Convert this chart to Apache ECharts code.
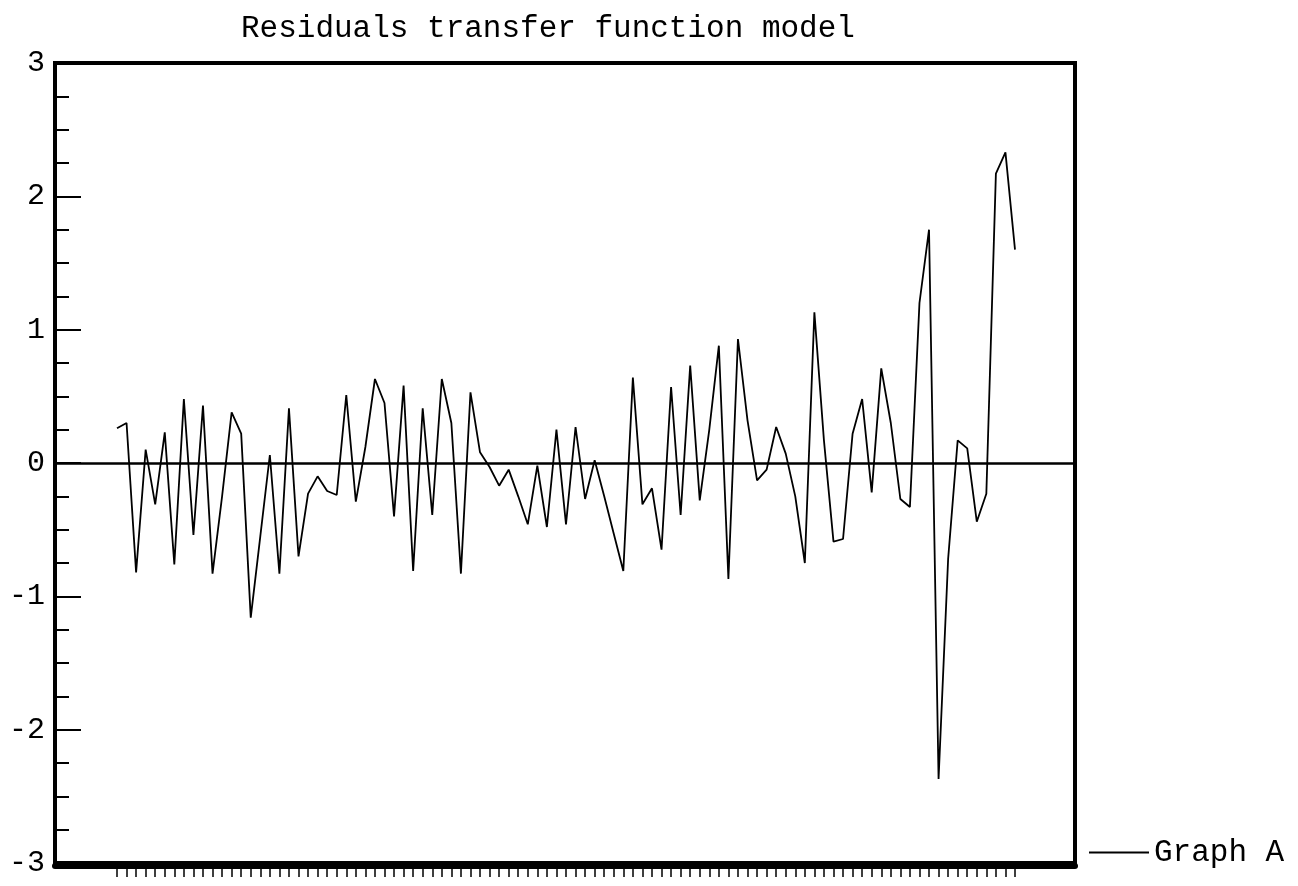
<!DOCTYPE html>
<html>
<head>
<meta charset="utf-8">
<script src="https://cdn.jsdelivr.net/npm/echarts@6/dist/echarts.min.js"></script>
<style>
html,body{margin:0;padding:0;background:#fff;}
#chart{width:1298px;height:886px;}
</style>
</head>
<body>
<div id="chart"></div>
<script>
var titleText = 'Residuals transfer function model';
var seriesName = 'Graph A';
var yMin = -3, yMax = 3, yStep = 1;
var residuals = [
  0.26, 0.30, -0.82, 0.10, -0.31, 0.23, -0.76, 0.48, -0.54, 0.43,
  -0.83, -0.25, 0.38, 0.22, -1.16, -0.55, 0.06, -0.83, 0.41, -0.70,
  -0.23, -0.10, -0.21, -0.24, 0.51, -0.29, 0.12, 0.63, 0.45, -0.40,
  0.58, -0.81, 0.41, -0.39, 0.63, 0.30, -0.83, 0.53, 0.08, -0.03,
  -0.17, -0.05, -0.25, -0.46, -0.02, -0.48, 0.25, -0.46, 0.27, -0.27,
  0.02, -0.25, -0.53, -0.81, 0.64, -0.31, -0.19, -0.65, 0.57, -0.39,
  0.73, -0.28, 0.25, 0.88, -0.87, 0.93, 0.32, -0.13, -0.05, 0.27,
  0.07, -0.25, -0.75, 1.13, 0.17, -0.59, -0.57, 0.22, 0.48, -0.22,
  0.71, 0.30, -0.27, -0.33, 1.20, 1.75, -2.37, -0.72, 0.17, 0.11,
  -0.44, -0.23, 2.17, 2.33, 1.60
];
var periods = residuals.map(function (v, i) { return String(i + 1); });

var FONT = '"Liberation Mono", "DejaVu Sans Mono", monospace';
var chart = echarts.init(document.getElementById('chart'), null, {renderer: 'canvas'});
chart.setOption({
  backgroundColor: '#ffffff',
  animation: false,
  title: {
    text: titleText,
    left: 236, top: 8,
    textStyle: {fontFamily: FONT, fontSize: 31, fontWeight: 'normal', color: '#000'}
  },
  legend: {
    data: [{name: seriesName, icon: 'rect'}],
    left: 1084, top: 832,
    itemWidth: 60, itemHeight: 2,
    itemStyle: {color: '#000', borderWidth: 0},
    textStyle: {fontFamily: FONT, fontSize: 31, color: '#000'}
  },
  grid: [
    {left: 55, right: 223, top: 63, bottom: 23, show: true, borderColor: '#000', borderWidth: 4, backgroundColor: 'transparent'},
    {left: 117, right: 283, top: 63, bottom: 23}
  ],
  xAxis: [
    {gridIndex: 0, type: 'value', min: 0, max: 1, position: 'bottom',
     axisLine: {show: true, onZero: true, lineStyle: {color: '#000', width: 2.5}},
     axisTick: {show: false}, axisLabel: {show: false}, splitLine: {show: false}},
    {gridIndex: 0, type: 'value', min: 0, max: 1, position: 'bottom', offset: 3,
     axisLine: {show: true, onZero: false, lineStyle: {color: '#000', width: 6}},
     axisTick: {show: false}, axisLabel: {show: false}, splitLine: {show: false}},
    {gridIndex: 1, type: 'category', data: periods, boundaryGap: false, position: 'bottom', offset: 6,
     axisLine: {show: false, onZero: false},
     axisTick: {show: true, interval: 0, inside: false, length: 8, lineStyle: {color: '#000', width: 1.5}},
     axisLabel: {show: false}, splitLine: {show: false}}
  ],
  yAxis: [
    {gridIndex: 0, type: 'value', min: yMin, max: yMax, interval: yStep,
     axisLine: {show: true, lineStyle: {color: '#000', width: 4}},
     axisTick: {show: true, inside: true, length: 26, lineStyle: {color: '#000', width: 2}},
     minorTick: {show: true, splitNumber: 4, length: 14, lineStyle: {color: '#000', width: 2}},
     axisLabel: {fontFamily: FONT, fontSize: 30, color: '#000', margin: 10},
     splitLine: {show: false}},
    {gridIndex: 1, type: 'value', min: yMin, max: yMax, interval: yStep, show: false}
  ],
  series: [{
    name: seriesName,
    type: 'line',
    xAxisIndex: 2, yAxisIndex: 1,
    data: residuals,
    symbol: 'none', showSymbol: false,
    lineStyle: {color: '#000', width: 1.8},
    itemStyle: {color: '#000'}
  }]
});
</script>
</body>
</html>
